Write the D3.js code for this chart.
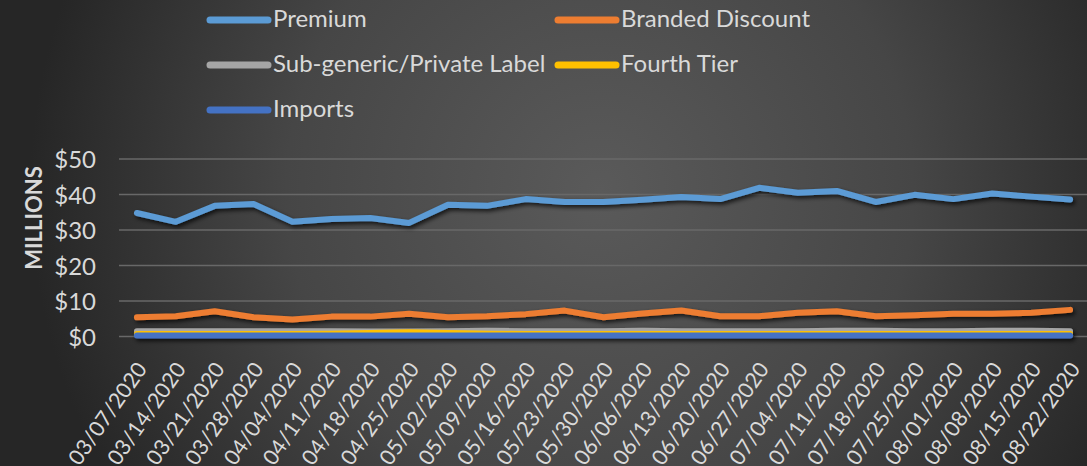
<!DOCTYPE html>
<html>
<head>
<meta charset="utf-8">
<script src="https://cdn.jsdelivr.net/npm/d3@7"></script>
<style>
  html, body { margin: 0; padding: 0; background: #262626; }
  svg { display: block; font-family: Lato, "Open Sans", sans-serif; }
</style>
</head>
<body>
<svg id="chart" width="1087" height="466"></svg>
<script>
// Weekly sales by price tier (millions of dollars)
const weeks = ["03/07/2020","03/14/2020","03/21/2020","03/28/2020","04/04/2020","04/11/2020",
  "04/18/2020","04/25/2020","05/02/2020","05/09/2020","05/16/2020","05/23/2020","05/30/2020",
  "06/06/2020","06/13/2020","06/20/2020","06/27/2020","07/04/2020","07/11/2020","07/18/2020",
  "07/25/2020","08/01/2020","08/08/2020","08/15/2020","08/22/2020"];

const premium = [34.8, 32.3, 36.8, 37.3, 32.3, 33.1, 33.4, 32.0, 37.1, 36.8, 38.7, 37.9, 37.9,
  38.5, 39.3, 38.7, 41.9, 40.5, 41.0, 37.9, 39.9, 38.7, 40.3, 39.4, 38.6];
const brandedDiscount = [5.4, 5.7, 7.1, 5.4, 4.8, 5.6, 5.6, 6.4, 5.4, 5.7, 6.3, 7.3, 5.4,
  6.5, 7.3, 5.7, 5.7, 6.7, 7.1, 5.7, 6.0, 6.4, 6.4, 6.7, 7.5];
const subGeneric = [1.5, 1.5, 1.5, 1.5, 1.5, 1.5, 1.4, 1.4, 1.5, 1.6, 1.5, 1.5, 1.5,
  1.6, 1.5, 1.5, 1.5, 1.5, 1.6, 1.6, 1.5, 1.5, 1.6, 1.6, 1.5];
const fourthTier = [0.7, 0.7, 0.7, 0.7, 0.7, 0.8, 1.0, 1.2, 1.0, 0.8, 0.7, 0.7, 0.7,
  0.7, 0.7, 0.7, 0.7, 0.7, 0.7, 0.7, 0.7, 0.7, 0.7, 0.7, 0.7];
const imports = [0.3, 0.3, 0.3, 0.3, 0.3, 0.3, 0.3, 0.3, 0.3, 0.3, 0.3, 0.3, 0.3,
  0.3, 0.3, 0.3, 0.3, 0.3, 0.3, 0.3, 0.3, 0.3, 0.3, 0.3, 0.3];

const yTicks = [0, 10, 20, 30, 40, 50];

const seriesNames = ["Premium", "Branded Discount", "Sub-generic/Private Label", "Fourth Tier", "Imports"];
const seriesColors = ["#5b9bd5", "#ed7d31", "#a5a5a5", "#ffc000", "#4472c4"];
const seriesValues = [premium, brandedDiscount, subGeneric, fourthTier, imports];

const series = seriesNames.map((name, i) => ({ name, color: seriesColors[i], values: seriesValues[i] }));

const W = 1087, H = 466;
const svg = d3.select("#chart");
const defs = svg.append("defs");

// Background glow
const bg = defs.append("radialGradient").attr("id", "bg")
  .attr("gradientUnits", "userSpaceOnUse")
  .attr("cx", 600).attr("cy", 190).attr("r", 570);
bg.append("stop").attr("offset", 0).attr("stop-color", "#5a5a5a");
bg.append("stop").attr("offset", 0.55).attr("stop-color", "#464646");
bg.append("stop").attr("offset", 1).attr("stop-color", "#262626");
svg.append("rect").attr("width", W).attr("height", H).attr("fill", "url(#bg)");

// Soft shadow under the lines
const sh = defs.append("filter").attr("id", "shadow")
  .attr("x", "-5%").attr("y", "-50%").attr("width", "110%").attr("height", "200%");
sh.append("feDropShadow").attr("dx", 2).attr("dy", 2.5).attr("stdDeviation", 2)
  .attr("flood-color", "#000").attr("flood-opacity", 0.75);

const x = d3.scaleBand().domain(weeks).range([117.5, 1089.5]);
const xc = d => x(d) + x.bandwidth() / 2;
const y = d3.scaleLinear().domain([0, 50]).range([336.5, 159]);

const textColor = "#d9d9d9";
const fontSize = 24;

// Gridlines
svg.append("g").selectAll("line").data(yTicks).join("line")
  .attr("x1", 119).attr("x2", W)
  .attr("y1", d => y(d)).attr("y2", d => y(d))
  .attr("stroke", "#686868").attr("stroke-width", 1.3);

// Y axis labels
const yAxis = svg.append("g").attr("transform", "translate(96,0)")
  .call(d3.axisLeft(y).tickValues(yTicks).tickSize(0).tickPadding(0).tickFormat(d => "$" + d));
yAxis.select(".domain").remove();
yAxis.selectAll("text").attr("fill", textColor).attr("font-size", fontSize)
  .attr("font-family", "Lato, 'Open Sans', sans-serif").attr("dy", "0.36em");

svg.append("text")
  .attr("transform", "translate(42,218) rotate(-90)")
  .attr("text-anchor", "middle")
  .attr("fill", textColor).attr("font-size", 22).attr("font-weight", "bold")
  .text("MILLIONS");

// X axis labels
const xAxis = svg.append("g").attr("transform", "translate(0,346)")
  .call(d3.axisBottom(x).tickSize(0).tickPadding(0));
xAxis.select(".domain").remove();
xAxis.selectAll("text")
  .attr("fill", textColor).attr("font-size", 21.5)
  .attr("font-family", "Lato, 'Open Sans', sans-serif")
  .attr("text-anchor", "end")
  .attr("dy", null).attr("y", 0)
  .attr("transform", "translate(11,23) rotate(-55)");

// Lines
const line = d3.line().x((d, i) => xc(weeks[i])).y(d => y(d));
svg.append("g").attr("filter", "url(#shadow)")
  .selectAll("path").data(series).join("path")
  .attr("d", s => line(s.values))
  .attr("fill", "none").attr("stroke", s => s.color)
  .attr("stroke-width", 6).attr("stroke-linejoin", "round").attr("stroke-linecap", "round");

// Legend
const legendPos = [[207, 20], [555, 20], [207, 65], [555, 65], [207, 110]];
const lg = svg.append("g").selectAll("g").data(series).join("g")
  .attr("transform", (s, i) => `translate(${legendPos[i][0]},${legendPos[i][1]})`);
lg.append("line").attr("x1", 3).attr("x2", 61).attr("y1", 0).attr("y2", 0)
  .attr("stroke", s => s.color).attr("stroke-width", 7).attr("stroke-linecap", "round");
lg.append("text").attr("x", 66).attr("y", -1).attr("dy", "0.35em")
  .attr("fill", textColor).attr("font-size", fontSize)
  .text(s => s.name);
</script>
</body>
</html>
